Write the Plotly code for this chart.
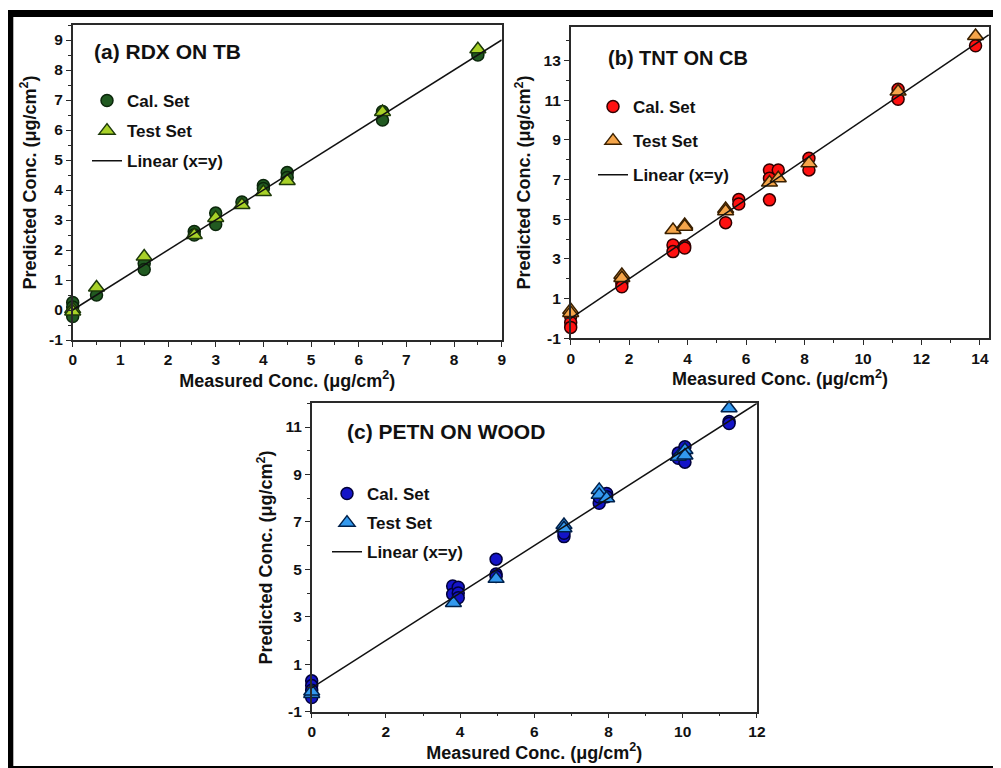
import plotly.graph_objects as go

# page body has an 8px default margin: draw the figure 8px smaller and shift coordinates
OFF = 8
W, H = 1001 - OFF, 768 - OFF

# ---------------- data ----------------
# (a) RDX ON TB
a_cal_x = [0, 0, 0, 0, 0.5, 1.5, 1.5, 2.55, 2.55, 3, 3, 3.55, 4, 4, 4.5, 4.5, 6.5, 6.5, 8.5, 8.5]
a_cal_y = [0.25, 0.1, -0.05, -0.22, 0.5, 1.55, 1.35, 2.62, 2.5, 3.23, 2.85, 3.6, 4.15, 4.05, 4.58, 4.42, 6.62, 6.33, 8.58, 8.5]
a_test_x = [0, 0, 0.5, 1.5, 2.55, 3, 3.55, 4, 4.5, 6.5, 8.5]
a_test_y = [0.03, -0.05, 0.75, 1.78, 2.5, 3.07, 3.5, 3.93, 4.3, 6.6, 8.69]
a_xticks = [0, 1, 2, 3, 4, 5, 6, 7, 8, 9]
a_yticks = [-1, 0, 1, 2, 3, 4, 5, 6, 7, 8, 9]

# (b) TNT ON CB
b_cal_x = [0, 0, 0, 1.75, 1.75, 3.5, 3.5, 3.9, 3.9, 5.3, 5.75, 5.75, 6.8, 6.8, 6.8, 7.1, 8.15, 8.15, 11.2, 11.2, 13.85]
b_cal_y = [0.1, -0.2, -0.45, 1.77, 1.6, 3.7, 3.37, 3.65, 3.55, 4.83, 6.0, 5.77, 7.49, 7.07, 5.98, 7.49, 8.08, 7.49, 11.56, 11.05, 13.75]
b_test_x = [0, 0, 1.75, 1.75, 3.5, 3.9, 3.9, 5.3, 5.3, 6.8, 7.1, 8.15, 11.2, 13.85]
b_test_y = [0.43, 0.28, 2.19, 2.04, 4.46, 4.71, 4.63, 5.52, 5.41, 6.85, 7.07, 7.82, 11.44, 14.24]
b_xticks = [0, 2, 4, 6, 8, 10, 12, 14]
b_yticks = [-1, 1, 3, 5, 7, 9, 11, 13]

# (c) PETN ON WOOD
c_cal_x = [0, 0, 0, 0, 3.8, 3.8, 3.95, 3.95, 3.95, 4.97, 4.97, 4.97, 6.8, 6.8, 7.75, 7.75, 7.95, 7.95,
           9.88, 9.88, 10.06, 10.06, 10.06, 11.25, 11.25]
c_cal_y = [0.3, 0.1, -0.1, -0.4, 4.3, 3.95, 4.25, 4.0, 3.8, 5.43, 4.8, 4.7, 6.38, 6.52, 7.79, 8.05, 8.2, 8.06,
           9.9, 9.68, 10.17, 9.75, 9.52, 11.23, 11.15]
c_test_x = [0, 0, 3.82, 4.97, 6.8, 6.8, 7.75, 7.75, 7.95, 9.88, 10.06, 10.06, 11.25]
c_test_y = [-0.25, -0.15, 3.58, 4.6, 6.87, 6.73, 8.35, 8.14, 8.0, 9.75, 10.03, 9.8, 11.79]
c_xticks = [0, 2, 4, 6, 8, 10, 12]
c_yticks = [-1, 1, 3, 5, 7, 9, 11]

# identity line end points per panel
a_line = [0, 9]
b_line = [0, 14.3]
c_line = [0, 12]

titles = ["(a) RDX ON TB", "(b) TNT ON CB", "(c) PETN ON WOOD"]
legend_names = ["Cal. Set", "Test Set", "Linear (x=y)"]
x_title = "Measured Conc. (μg/cm<sup>2</sup>)"
y_title = "Predicted Conc. (μg/cm<sup>2</sup>)"

FONT = "Liberation Sans, Arial, sans-serif"


def fx(p):
    return (p - OFF) / W


def fy(p):
    return 1 - (p - OFF) / H


def tick_text(vals):
    return [str(v) for v in vals]


panels = [
    dict(key="a", xa="x", ya="y", leg="legend",
         cal=(a_cal_x, a_cal_y), test=(a_test_x, a_test_y), line=a_line,
         xt=a_xticks, yt=a_yticks,
         cal_color="#215a21", cal_edge="#0b260b", test_color="#a8d128", test_edge="#1d3a0a",
         dom_x=(72.7, 501.7), dom_y=(340, 25), xr=[0, 9], yr=[-1, 9.5],
         xm=0.5, ym=0.5,
         title=titles[0], tpos=(92, 52), tsize=21,
         legpos=(87, 83), gap=5),
    dict(key="b", xa="x2", ya="y2", leg="legend2",
         cal=(b_cal_x, b_cal_y), test=(b_test_x, b_test_y), line=b_line,
         xt=b_xticks, yt=b_yticks,
         cal_color="#ff1010", cal_edge="#300000", test_color="#f5a54a", test_edge="#3a2000",
         dom_x=(570.7, 989.3), dom_y=(338.3, 26.7), xr=[0, 14.32], yr=[-1, 14.71],
         xm=1, ym=1,
         title=titles[1], tpos=(606, 58), tsize=20,
         legpos=(593, 89), gap=9),
    dict(key="c", xa="x3", ya="y3", leg="legend3",
         cal=(c_cal_x, c_cal_y), test=(c_test_x, c_test_y), line=c_line,
         xt=c_xticks, yt=c_yticks,
         cal_color="#1414c8", cal_edge="#00003a", test_color="#3399ee", test_edge="#00204a",
         dom_x=(311.7, 756.9), dom_y=(711.7, 403.3), xr=[0, 12], yr=[-1, 12],
         xm=1, ym=1,
         title=titles[2], tpos=(345, 431.7), tsize=21,
         legpos=(327, 476), gap=4),
]

fig = go.Figure()
layout = dict(
    width=W, height=H,
    margin=dict(l=0, r=0, t=0, b=0),
    paper_bgcolor="white", plot_bgcolor="white",
    showlegend=True,
    font=dict(family=FONT, color="#111"),
    annotations=[], shapes=[],
)

for p in panels:
    cx, cy = p["cal"]
    tx, ty = p["test"]
    fig.add_trace(go.Scatter(
        x=cx, y=cy, mode="markers", name=legend_names[0],
        xaxis=p["xa"], yaxis=p["ya"], legend=p["leg"], legendgroup=p["key"] + "1",
        cliponaxis=False,
        marker=dict(symbol="circle", size=12, color=p["cal_color"],
                    line=dict(color=p["cal_edge"], width=1.5)),
    ))
    fig.add_trace(go.Scatter(
        x=tx, y=ty, mode="markers", name=legend_names[1],
        xaxis=p["xa"], yaxis=p["ya"], legend=p["leg"], legendgroup=p["key"] + "2",
        cliponaxis=False,
        marker=dict(symbol="triangle-up", size=14, color=p["test_color"],
                    line=dict(color=p["test_edge"], width=1.5)),
    ))
    fig.add_trace(go.Scatter(
        x=p["line"], y=p["line"], mode="lines", name=legend_names[2],
        xaxis=p["xa"], yaxis=p["ya"], legend=p["leg"], legendgroup=p["key"] + "3",
        line=dict(color="#111", width=1.5),
    ))

    n = "" if p["key"] == "a" else ("2" if p["key"] == "b" else "3")
    common = dict(
        showline=True, mirror=True, linecolor="#2a2a2a", linewidth=1.5,
        showgrid=False, zeroline=False,
        ticks="outside", ticklen=5, tickwidth=1.3, tickcolor="#2a2a2a",
        tickfont=dict(family=FONT, size=15.5, color="#111", weight="bold"),
        automargin=False,
    )
    layout["xaxis" + n] = dict(
        common,
        domain=[fx(p["dom_x"][0]), fx(p["dom_x"][1])],
        anchor="y" + n, range=p["xr"],
        tickmode="array", tickvals=p["xt"], ticktext=tick_text(p["xt"]),
        minor=dict(ticks="outside", ticklen=3, tickwidth=1.2, tickcolor="#2a2a2a",
                   tickmode="linear", tick0=0, dtick=p["xm"]),
        title=dict(text=x_title, standoff=4,
                   font=dict(family=FONT, size=18, color="#111", weight="bold")),
    )
    layout["yaxis" + n] = dict(
        common,
        domain=[fy(p["dom_y"][0]), fy(p["dom_y"][1])],
        anchor="x" + n, range=p["yr"],
        tickmode="array", tickvals=p["yt"], ticktext=tick_text(p["yt"]),
        minor=dict(ticks="outside", ticklen=3, tickwidth=1.2, tickcolor="#2a2a2a",
                   tickmode="linear", tick0=-1, dtick=p["ym"]),
        title=dict(text=y_title, standoff=8,
                   font=dict(family=FONT, size=18, color="#111", weight="bold")),
    )
    layout[p["leg"]] = dict(
        x=fx(p["legpos"][0]), y=fy(p["legpos"][1]), xanchor="left", yanchor="top",
        bgcolor="rgba(0,0,0,0)", borderwidth=0,
        traceorder="grouped", tracegroupgap=p["gap"],
        font=dict(family=FONT, size=17, color="#111", weight="bold"),
    )
    layout["annotations"].append(dict(
        text=p["title"], xref="paper", yref="paper",
        x=fx(p["tpos"][0]), y=fy(p["tpos"][1]), xanchor="left", yanchor="middle",
        showarrow=False,
        font=dict(family=FONT, size=p["tsize"], color="#111", weight="bold"),
    ))

# outer black frame (left, top, bottom), in reference pixels
frame = [
    (OFF, 13.3, 10, 768),
    (OFF, 1001, 10, 17),
    (OFF, 1001, 766, 768),
]
for x0, x1, y0, y1 in frame:
    layout["shapes"].append(dict(
        type="rect", xref="paper", yref="paper",
        x0=fx(x0), x1=fx(x1), y0=fy(y1), y1=fy(y0),
        fillcolor="black", line=dict(width=0), layer="above",
    ))

fig.update_layout(**layout)
fig.write_html("out.html")
